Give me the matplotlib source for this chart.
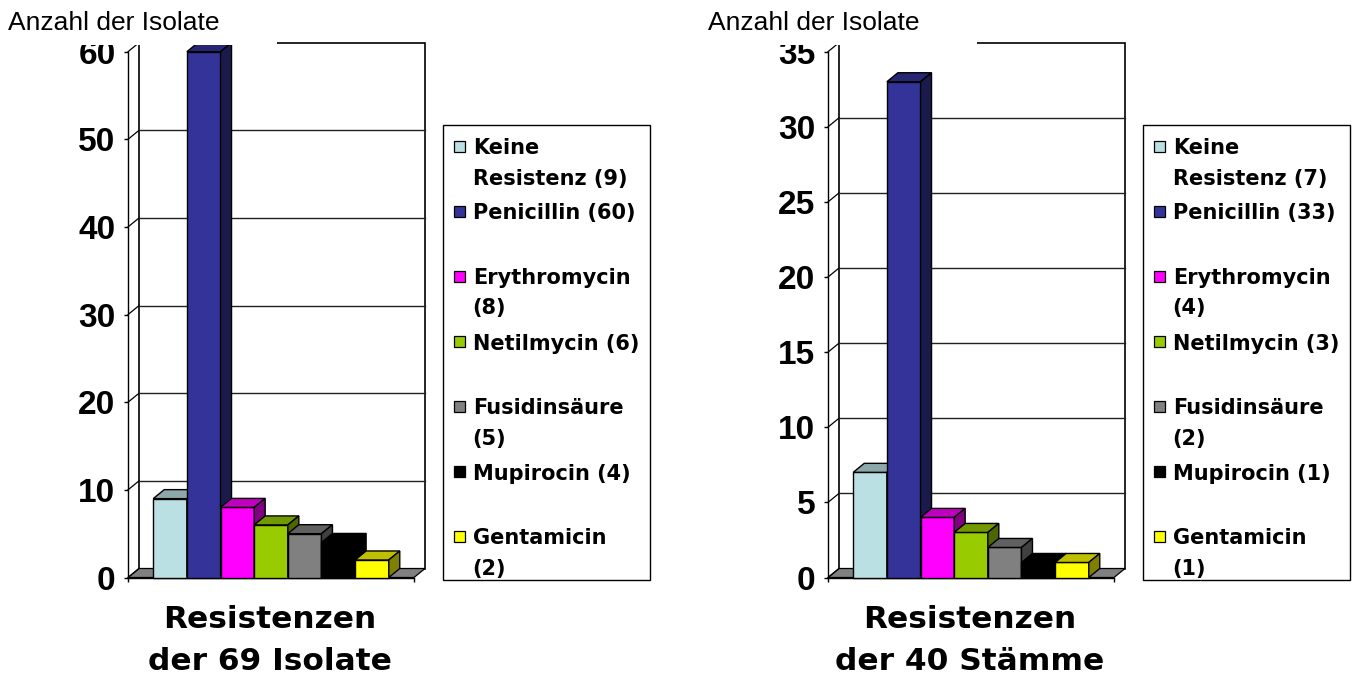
#%% Imports
import matplotlib
matplotlib.use('Agg')
import matplotlib.pyplot as plt
from matplotlib.patches import Polygon, Rectangle

#%% Data
names = ['Keine Resistenz', 'Penicillin', 'Erythromycin', 'Netilmycin',
         'Fusidinsäure', 'Mupirocin', 'Gentamicin']
counts_isolate = [9, 60, 8, 6, 5, 4, 2]
counts_staemme = [7, 33, 4, 3, 2, 1, 1]
yticks_isolate = [0, 10, 20, 30, 40, 50, 60]
yticks_staemme = [0, 5, 10, 15, 20, 25, 30, 35]
title_isolate = ['Resistenzen', 'der 69 Isolate']
title_staemme = ['Resistenzen', 'der 40 Stämme']
ylabel = 'Anzahl der Isolate'
# where the legend text wraps (as in the original slide)
wrap = ['after_first', None, 'before_count', None, 'before_count', None, 'before_count']

front = ['#BBE0E3', '#333399', '#FF00FF', '#99CC00', '#808080', '#000000', '#FFFF00']
top = ['#8CA8AA', '#262673', '#BF00BF', '#739900', '#606060', '#000000', '#BFBF00']
side = ['#5E7072', '#1A1A4D', '#800080', '#4D6600', '#404040', '#000000', '#808000']

#%% Figure
W, H = 1357, 679
fig = plt.figure(figsize=(W / 100, H / 100), dpi=100)

def fx(x):
    return x / W

def fy(y):
    return 1 - y / H

def legend_lines(name, n, how):
    lab = '{} ({})'.format(name, n)
    if how == 'after_first':
        a, b = lab.split(' ', 1)
        return [a, b]
    if how == 'before_count':
        return [name, '({})'.format(n)]
    return [lab]

def draw_chart(x0, counts, yticks, title):
    # front plane of the 3D box
    ax = fig.add_axes([fx(x0), fy(577.5), fx(286), (577.5 - 51.7) / H])
    ymax = yticks[-1]
    ax.set_xlim(0, 1)
    ax.set_ylim(0, ymax)
    ax.patch.set_visible(False)
    dx = 11 / 286
    dy = 9 / 525.8 * ymax

    # back wall, floor, grid
    ax.add_patch(Polygon([(dx, dy), (1 + dx, dy), (1 + dx, ymax + dy), (dx, ymax + dy)],
                         closed=True, fc='white', ec='black', lw=1.2, clip_on=False, zorder=0.5))
    ax.add_patch(Polygon([(0, 0), (1, 0), (1 + dx, dy), (dx, dy)], closed=True,
                         fc='#808080', ec='black', lw=0.9, clip_on=False, zorder=1))
    for t in yticks:
        ax.plot([0, dx], [t, t + dy], color='black', lw=0.9, clip_on=False, zorder=1.2)
        if 0 < t < ymax:
            ax.plot([dx, 1 + dx], [t + dy, t + dy], color='#222222', lw=1.0,
                    clip_on=False, zorder=1.2)

    # bars: one category, seven series, gap width 150%
    w = 1 / 8.5
    g = 0.75 * w
    for i, v in enumerate(counts):
        l = g + i * w
        bars = ax.bar(l, v, width=w, align='edge', color=front[i], edgecolor='black',
                      linewidth=1.0, zorder=3 + i)
        bars[0].set_clip_on(False)
        ax.add_patch(Polygon([(l, v), (l + w, v), (l + w + dx, v + dy), (l + dx, v + dy)],
                             closed=True, fc=top[i], ec='black', lw=1.0, clip_on=False, zorder=3 + i))
        ax.add_patch(Polygon([(l + w, 0), (l + w + dx, dy), (l + w + dx, v + dy), (l + w, v)],
                             closed=True, fc=side[i], ec='black', lw=1.0, clip_on=False, zorder=3 + i))

    for s in ['top', 'right']:
        ax.spines[s].set_visible(False)
    ax.spines['left'].set_linewidth(1.0)
    ax.spines['bottom'].set_linewidth(1.0)
    ax.spines['left'].set_zorder(2)
    ax.spines['bottom'].set_zorder(2)
    ax.set_yticks(yticks)
    ax.set_yticklabels([str(t) for t in yticks], fontfamily='Liberation Sans',
                       fontweight='bold', fontsize=24)
    ax.set_xticks([0, 1])
    ax.set_xticklabels(['', ''])
    ax.tick_params(axis='both', direction='out', length=3, width=1.0, pad=6)

    # white box of the slide text covering the top edge
    fig.add_artist(Rectangle((fx(x0 - 128), fy(44.5)), fx(277), 44.5 / H,
                             transform=fig.transFigure, fc='white', ec='none', zorder=5))
    fig.text(fx(x0 - 120), fy(30), ylabel, fontfamily='Liberation Sans', fontsize=19,
             va='baseline', ha='left', zorder=6)

    # legend
    lx = x0 + 314.7
    fig.add_artist(Rectangle((fx(lx), fy(580)), fx(207.3), 455 / H, transform=fig.transFigure,
                             fc='white', ec='black', lw=1.0, zorder=4))
    for i, (name, n) in enumerate(zip(names, counts)):
        yc = 146.5 + 65 * i
        fig.add_artist(Rectangle((fx(lx + 11.5), fy(yc + 5.5)), fx(11), 11 / H,
                                 transform=fig.transFigure, fc=front[i], ec='black',
                                 lw=0.9, zorder=6))
        for j, line in enumerate(legend_lines(name, n, wrap[i])):
            fig.text(fx(lx + 30), fy(yc + 30 * j), line, fontfamily='DejaVu Sans',
                     fontweight='bold', fontsize=15, va='center_baseline', ha='left', zorder=6)

    # chart title under the box
    for j, line in enumerate(title):
        fig.text(fx(x0 + 142), fy(628 + 42 * j), line, fontfamily='DejaVu Sans',
                 fontweight='bold', fontsize=22.5, va='baseline', ha='center')
    return ax

ax1 = draw_chart(128, counts_isolate, yticks_isolate, title_isolate)
ax2 = draw_chart(828, counts_staemme, yticks_staemme, title_staemme)

plt.savefig('out.png', dpi=100)
